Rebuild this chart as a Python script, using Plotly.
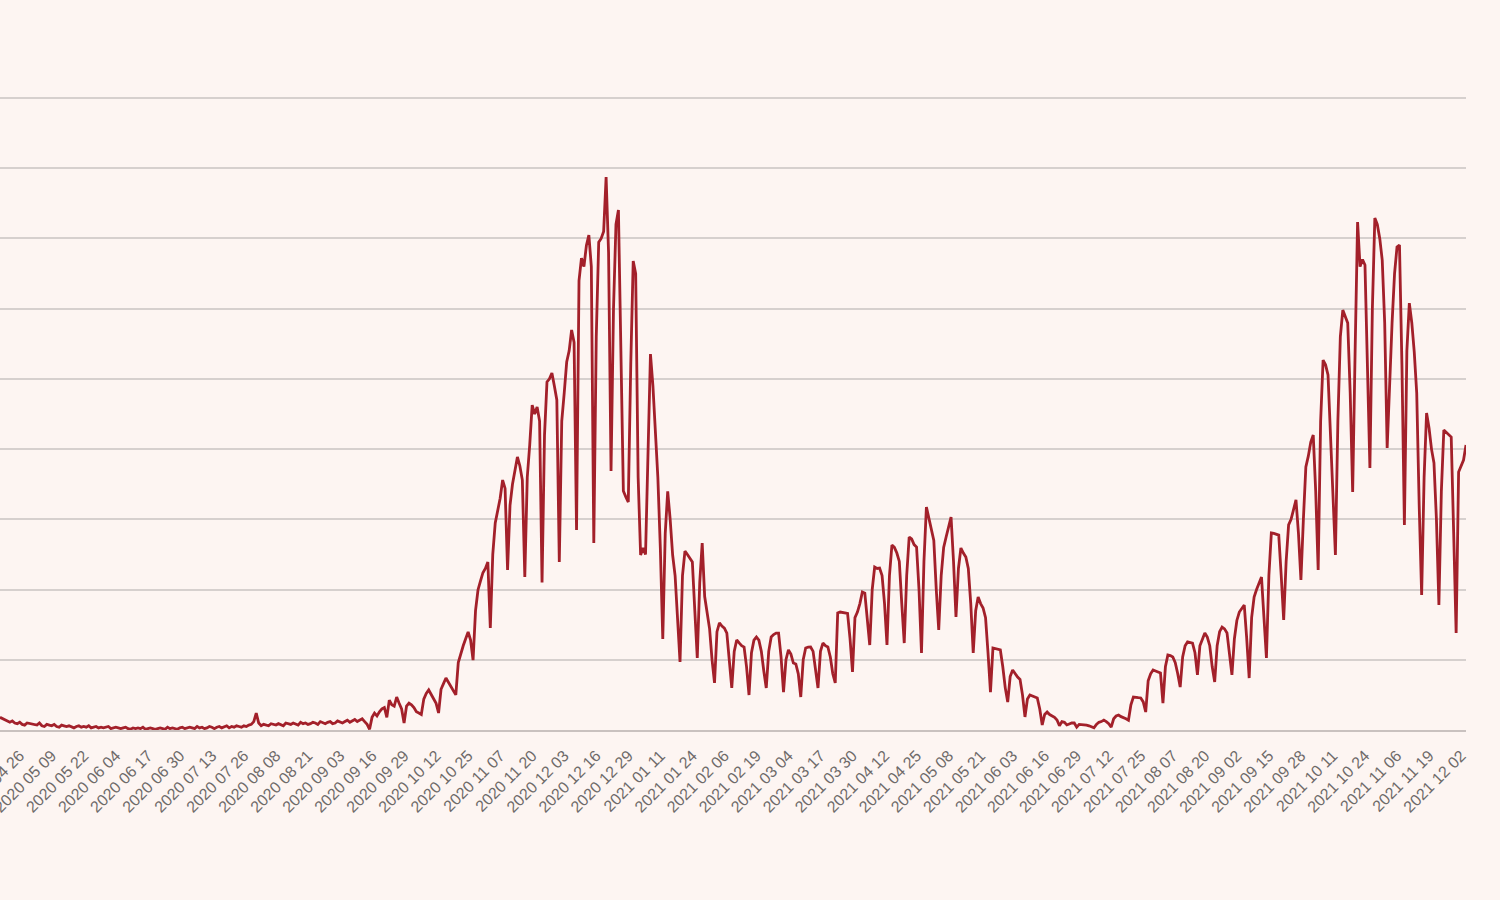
import pandas as pd
import plotly.graph_objects as go

# Daily values, one row per week, starting 2020-04-18
start_date = "2020-04-18"
cases = [
    90, 80, 70, 60, 55, 65, 50,
    45, 55, 40, 35, 50, 45, 40,
    40, 35, 50, 30, 25, 40, 35,
    30, 40, 25, 20, 35, 30, 25,
    30, 20, 15, 25, 30, 20, 25,
    20, 30, 15, 20, 25, 15, 20,
    15, 20, 25, 10, 15, 20, 15,
    10, 15, 20, 10, 5, 15, 10,
    15, 10, 20, 5, 10, 15, 10,
    5, 10, 15, 10, 5, 20, 10,
    15, 10, 5, 15, 20, 10, 15,
    20, 15, 10, 25, 15, 20, 10,
    15, 25, 20, 10, 20, 25, 15,
    20, 30, 15, 25, 20, 30, 25,
    20, 30, 25, 35, 40, 60, 120,
    50, 30, 40, 35, 30, 45, 40,
    35, 45, 40, 30, 50, 45, 40,
    50, 40, 35, 55, 45, 50, 40,
    45, 55, 50, 40, 60, 50, 45,
    55, 60, 45, 50, 65, 55, 50,
    60, 70, 55, 65, 75, 60, 70,
    80, 60, 40, 5, 90, 120, 100,
    130, 150, 160, 90, 213, 180, 170,
    235, 190, 150, 50, 170, 192, 180,
    160, 130, 121, 110, 220, 260, 285,
    250, 220, 190, 121, 290, 330, 370,
    340, 310, 290, 250, 480, 548, 600,
    650, 698, 640, 498, 850, 997, 1060,
    1120, 1150, 1196, 726, 1250, 1474, 1560,
    1650, 1780, 1720, 1139, 1600, 1750, 1850,
    1944, 1880, 1780, 1089, 1800, 2030, 2314,
    2250, 2300, 2200, 1050, 2100, 2478, 2500,
    2542, 2450, 2350, 1196, 2200, 2400, 2620,
    2700, 2848, 2760, 1424, 3200, 3360, 3300,
    3450, 3524, 3300, 1331, 2800, 3474, 3500,
    3550, 3937, 3400, 1844, 3000, 3600, 3702,
    2700, 1702, 1660, 1623, 2600, 3339, 3250,
    1800, 1246, 1296, 1250, 2000, 2677, 2450,
    2150, 1800, 1300, 648, 1400, 1700, 1500,
    1246, 1100, 800, 484, 1100, 1274, 1250,
    1220, 1196, 850, 513, 1050, 1331, 950,
    820, 720, 500, 335, 700, 762, 740,
    726, 690, 500, 300, 560, 641, 620,
    600, 590, 450, 249, 550, 640, 662,
    640, 560, 420, 299, 560, 662, 680,
    690, 690, 520, 270, 500, 570, 540,
    477, 470, 400, 235, 500, 584, 590,
    591, 560, 420, 299, 560, 619, 600,
    591, 520, 400, 335, 833, 840, 835,
    833, 830, 650, 413, 800, 840, 900,
    983, 975, 780, 605, 1000, 1160, 1150,
    1153, 1100, 900, 605, 1100, 1317, 1300,
    1260, 1200, 900, 619, 1100, 1374, 1360,
    1320, 1303, 1000, 548, 1200, 1588, 1500,
    1424, 1350, 1000, 712, 1100, 1300, 1374,
    1450, 1516, 1200, 805, 1150, 1296, 1260,
    1232, 1150, 900, 548, 850, 947, 900,
    869, 800, 550, 270, 584, 580, 575,
    570, 450, 300, 199, 380, 427, 400,
    377, 360, 250, 93, 220, 249, 240,
    235, 228, 150, 36, 110, 128, 110,
    100, 90, 71, 30, 60, 55, 36,
    45, 50, 50, 20, 40, 40, 36,
    35, 30, 25, 15, 40, 55, 60,
    71, 60, 45, 21, 80, 100, 107,
    95, 90, 80, 70, 180, 235, 230,
    230, 228, 200, 128, 350, 400, 427,
    420, 410, 406, 192, 450, 534, 530,
    520, 480, 400, 306, 520, 600, 627,
    625, 619, 550, 392, 600, 650, 691,
    662, 600, 450, 342, 600, 700, 733,
    720, 691, 550, 392, 650, 780, 840,
    870, 890, 650, 370, 800, 947, 1000,
    1050, 1089, 800, 513, 1100, 1403, 1400,
    1395, 1388, 1100, 783, 1200, 1460, 1500,
    1580, 1638, 1400, 1068, 1500, 1873, 1950,
    2050, 2100, 1700, 1139, 2200, 2634, 2600,
    2528, 2100, 1700, 1246, 2200, 2800, 2990,
    2950, 2898, 2400, 1695, 2700, 3617, 3300,
    3350, 3311, 2600, 1865, 3000, 3645, 3600,
    3500, 3346, 2900, 2008, 2500, 2900, 3250,
    3439, 3453, 2600, 1460, 2700, 3040, 2900,
    2691, 2400, 1600, 961, 1800, 2257, 2150,
    2000, 1901, 1500, 890, 1700, 2136, 2120,
    2100, 2086, 1400, 691, 1837, 1880, 1922,
    2029,
]

tick_dates = [
    "2020-04-26", "2020-05-09", "2020-05-22", "2020-06-04", "2020-06-17",
    "2020-06-30", "2020-07-13", "2020-07-26", "2020-08-08", "2020-08-21",
    "2020-09-03", "2020-09-16", "2020-09-29", "2020-10-12", "2020-10-25",
    "2020-11-07", "2020-11-20", "2020-12-03", "2020-12-16", "2020-12-29",
    "2021-01-11", "2021-01-24", "2021-02-06", "2021-02-19", "2021-03-04",
    "2021-03-17", "2021-03-30", "2021-04-12", "2021-04-25", "2021-05-08",
    "2021-05-21", "2021-06-03", "2021-06-16", "2021-06-29", "2021-07-12",
    "2021-07-25", "2021-08-07", "2021-08-20", "2021-09-02", "2021-09-15",
    "2021-09-28", "2021-10-11", "2021-10-24", "2021-11-06", "2021-11-19",
    "2021-12-02",
]
tick_labels = [d.replace("-", " ") for d in tick_dates]

y_gridlines = [0, 500, 1000, 1500, 2000, 2500, 3000, 3500, 4000, 4500]
y_max = 4550

dates = pd.date_range(start_date, periods=len(cases), freq="D")

fig = go.Figure()
fig.add_trace(go.Scatter(
    x=dates, y=cases, mode="lines",
    line=dict(color="#A3202A", width=2.8),
    hoverinfo="x+y",
    showlegend=False,
))

bg = "#FDF5F2"
fig.update_layout(
    width=1500, height=900,
    paper_bgcolor=bg, plot_bgcolor=bg,
    margin=dict(l=0, r=34, t=91, b=170, autoexpand=False),
    font=dict(family="Liberation Sans, Arial, sans-serif", color="#6e6a69"),
    xaxis=dict(
        range=[dates[0], dates[-1]],
        tickmode="array", tickvals=tick_dates, ticktext=tick_labels,
        tickangle=-45, tickfont=dict(size=16, color="#6e6a69"),
        ticklabeloverflow="allow", automargin=False,
        showgrid=False, zeroline=False,
        showline=True, linecolor="#c9c1bf", linewidth=2,
        ticks="outside", ticklen=8, tickcolor=bg, tickwidth=1,
    ),
    yaxis=dict(
        range=[0, y_max], automargin=False,
        tickmode="array", tickvals=y_gridlines,
        showticklabels=False,
        showgrid=True, gridcolor="#d6d0ce", gridwidth=1.5,
        zeroline=False, showline=False, ticks="",
    ),
)

fig.write_html(
    "out.html",
    config={"displayModeBar": False},
    post_script="document.body.style.margin='0';",
)
